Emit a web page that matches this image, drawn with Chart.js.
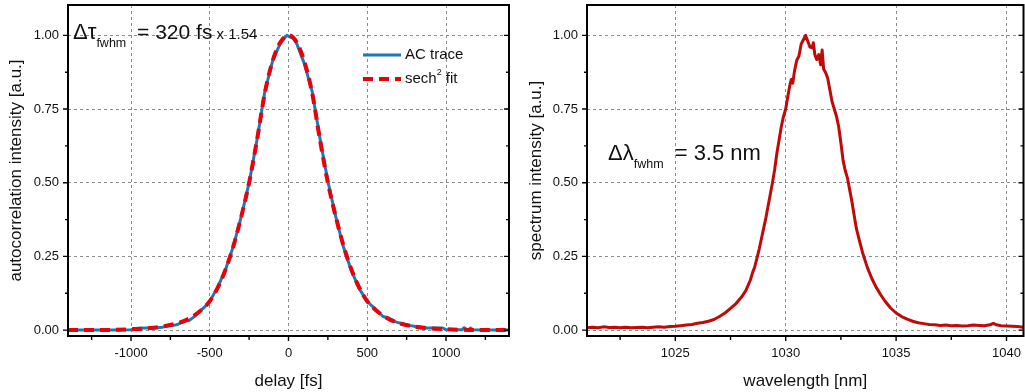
<!DOCTYPE html>
<html><head><meta charset="utf-8">
<script src="https://cdn.jsdelivr.net/npm/chart.js@4.4.0/dist/chart.umd.min.js"></script>
<style>
html,body{margin:0;padding:0;background:#fff;overflow:hidden;}
#wrap{position:relative;width:1025px;height:392px;background:#fff;}
#c1{position:absolute;left:0;top:0;}
#c2{position:absolute;left:520px;top:0;}
</style></head><body>
<div id="wrap"><canvas id="c1" width="520" height="392"></canvas><canvas id="c2" width="505" height="392"></canvas></div>
<script>
// ---- data ----
const acDelay = [-1400,-1300,-1200,-1100,-1000,-960,-900,-850,-800,-760,-720,-700,-660,-630,-600,-560,-520,-500,-450,-400,-350,-300,-250,-200,-150,-100,-50,-10,30,50,100,150,200,250,300,350,400,450,500,550,600,640,680,720,760,800,830,900,980,1000,1100,1115,1130,1145,1155,1170,1250,1400];
const acTrace = [0,0,0,0,0.001,0.006,0.007,0.007,0.010,0.015,0.017,0.020,0.030,0.033,0.045,0.065,0.085,0.098,0.145,0.205,0.285,0.385,0.50,0.645,0.81,0.915,0.975,1.0,0.99,0.975,0.905,0.81,0.65,0.505,0.385,0.28,0.20,0.14,0.097,0.072,0.046,0.040,0.028,0.022,0.016,0.013,0.007,0.007,0.007,0.001,0.001,0.008,0.002,0.001,0.007,0.001,0,0];

const fitDelay = [-1400,-1200,-1100,-1000,-900,-800,-700,-650,-600,-550,-500,-450,-400,-350,-300,-250,-200,-150,-100,-50,0,50,100,150,200,250,300,350,400,450,500,550,600,650,700,800,900,1000,1100,1200,1400];
const sechFit = [0,0,0.001,0.003,0.006,0.012,0.024,0.034,0.049,0.070,0.098,0.143,0.205,0.285,0.385,0.50,0.645,0.805,0.915,0.978,1.0,0.978,0.912,0.805,0.645,0.50,0.385,0.285,0.205,0.143,0.098,0.070,0.049,0.034,0.024,0.012,0.006,0.003,0.001,0,0];

const wavelength = [1021.0,1021.25,1021.5,1021.75,1022.0,1022.25,1022.5,1022.75,1023.0,1023.25,1023.5,1023.75,1024.0,1024.25,1024.5,1024.75,1025.0,1025.25,1025.5,1025.75,1026.0,1026.25,1026.5,1026.75,1027.0,1027.25,1027.5,1027.75,1028.0,1028.2,1028.4,1028.5,1028.6,1028.7,1028.8,1028.9,1029.0,1029.1,1029.2,1029.3,1029.4,1029.5,1029.6,1029.7,1029.8,1029.9,1030.0,1030.1,1030.2,1030.25,1030.32,1030.4,1030.5,1030.6,1030.7,1030.8,1030.9,1031.0,1031.1,1031.2,1031.25,1031.32,1031.4,1031.5,1031.58,1031.65,1031.72,1031.8,1031.9,1032.0,1032.1,1032.2,1032.3,1032.4,1032.5,1032.6,1032.7,1032.8,1032.9,1033.0,1033.1,1033.2,1033.35,1033.5,1033.7,1033.9,1034.1,1034.3,1034.5,1034.75,1035.0,1035.25,1035.5,1035.75,1036.0,1036.25,1036.5,1036.75,1037.0,1037.25,1037.5,1037.75,1038.0,1038.25,1038.5,1038.75,1039.0,1039.25,1039.4,1039.55,1039.75,1040.0,1040.25,1040.5,1040.75,1041.0];
const spectrum = [0.008,0.010,0.008,0.011,0.009,0.010,0.008,0.010,0.008,0.009,0.010,0.008,0.010,0.011,0.010,0.012,0.013,0.015,0.017,0.019,0.023,0.026,0.030,0.036,0.046,0.058,0.074,0.090,0.112,0.135,0.170,0.195,0.215,0.245,0.275,0.310,0.345,0.380,0.420,0.460,0.500,0.545,0.600,0.645,0.690,0.725,0.750,0.795,0.835,0.850,0.838,0.880,0.915,0.930,0.970,0.985,1.000,0.980,0.960,0.958,0.975,0.935,0.918,0.935,0.900,0.950,0.885,0.875,0.855,0.815,0.775,0.750,0.725,0.690,0.635,0.575,0.540,0.515,0.475,0.435,0.390,0.345,0.300,0.258,0.212,0.175,0.145,0.120,0.098,0.075,0.058,0.046,0.037,0.030,0.025,0.022,0.019,0.018,0.016,0.017,0.015,0.016,0.014,0.015,0.017,0.016,0.015,0.018,0.023,0.018,0.015,0.014,0.013,0.012,0.010,0.009];

const yTicks = [0, 0.25, 0.5, 0.75, 1.0];
const delayTicks = [-1000, -500, 0, 500, 1000];
const wlTicks = [1025, 1030, 1035, 1040];

// ---- styling ----
const FONT = '"Liberation Sans", Arial, Helvetica, sans-serif';
const TXT = '#111';
const GRID = '#8c8c8c';

function pts(xs, ys) { return xs.map((x, i) => ({ x: x, y: ys[i] })); }

const framePlugin = {
  id: 'frame',
  afterDraw(chart, args, o) {
    const { ctx, chartArea: a, scales } = chart;
    const xs = scales.x, ys = scales.y;
    ctx.save();
    ctx.strokeStyle = '#000';
    ctx.lineWidth = 1.4;
    const xt = o.xTicks, yt = o.yTicks;
    const xStep = xt[1] - xt[0], yStep = yt[1] - yt[0];
    ctx.beginPath();
    for (let v = xt[0] - xStep; v <= xt[xt.length - 1] + xStep; v += xStep / 2) {
      if (v < xs.min || v > xs.max) continue;
      const px = xs.getPixelForValue(v);
      const major = xt.some(t => Math.abs(t - v) < 1e-9);
      ctx.moveTo(px, a.bottom); ctx.lineTo(px, a.bottom + (major ? 5 : 4));
    }
    for (let v = yt[0] - yStep; v <= yt[yt.length - 1] + yStep; v += yStep / 2) {
      if (v < ys.min || v > ys.max) continue;
      const py = ys.getPixelForValue(v);
      const major = yt.some(t => Math.abs(t - v) < 1e-9);
      const L = major ? 5 : 3;
      ctx.moveTo(a.left, py); ctx.lineTo(a.left - L, py);
      ctx.moveTo(a.right, py); ctx.lineTo(a.right - L, py);
    }
    ctx.stroke();
    ctx.lineWidth = 2;
    ctx.strokeRect(a.left, a.top, a.right - a.left, a.bottom - a.top);
    if (o.label) {
      let x = a.left + o.label.dx;
      const y = ys.getPixelForValue(o.label.at);
      ctx.fillStyle = TXT;
      ctx.textBaseline = 'alphabetic';
      ctx.textAlign = 'left';
      for (const p of o.label.parts) {
        ctx.font = p.size + 'px ' + FONT;
        ctx.fillText(p.text, x, y + (p.dy || 0));
        x += ctx.measureText(p.text).width + (p.gap || 0);
      }
    }
    if (o.legend) {
      const lg = o.legend;
      chart.data.datasets.forEach((ds, i) => {
        const y = a.top + lg.top + i * lg.row;
        const x0 = a.right - lg.fromRight;
        ctx.strokeStyle = ds.borderColor;
        ctx.lineWidth = ds.borderWidth;
        ctx.setLineDash(ds.borderDash || []);
        ctx.beginPath(); ctx.moveTo(x0, y); ctx.lineTo(x0 + lg.lineLen, y); ctx.stroke();
        ctx.setLineDash([]);
        ctx.fillStyle = TXT;
        ctx.textBaseline = 'middle';
        let tx = x0 + lg.lineLen + 4;
        for (const p of lg.labels[i]) {
          ctx.font = p.size + 'px ' + FONT;
          ctx.fillText(p.text, tx, y + (p.dy || 0));
          tx += ctx.measureText(p.text).width;
        }
      });
    }
    ctx.restore();
  }
};

function axisX(min, max, ticks, title, height) {
  return {
    type: 'linear', min: min, max: max,
    afterBuildTicks: s => { s.ticks = ticks.map(v => ({ value: v })); },
    afterFit: s => { s.height = height; s.paddingLeft = 0; s.paddingRight = 0; s.paddingTop = 0; s.paddingBottom = 0; },
    grid: { color: GRID, lineWidth: 1, drawTicks: false },
    border: { display: false, dash: [3, 3] },
    ticks: { padding: 10, color: TXT, maxRotation: 0, autoSkip: false,
      font: { family: FONT, size: 13 }, callback: v => String(v) },
    title: { display: true, text: title, color: TXT, font: { family: FONT, size: 17 }, padding: { top: 5, bottom: 0 } }
  };
}
function axisY(title, width) {
  return {
    type: 'linear', min: -0.02, max: 1.103,
    afterBuildTicks: s => { s.ticks = yTicks.map(v => ({ value: v })); },
    afterFit: s => { s.width = width; s.paddingLeft = 0; s.paddingRight = 0; s.paddingTop = 0; s.paddingBottom = 0; },
    grid: { color: GRID, lineWidth: 1, drawTicks: false },
    border: { display: false, dash: [3, 3] },
    ticks: { padding: 9, color: TXT, font: { family: FONT, size: 13 }, callback: v => v.toFixed(2) },
    title: { display: true, text: title, color: TXT, font: { family: FONT, size: 17 }, padding: { top: 6, bottom: 0 } }
  };
}

const common = {
  responsive: false, animation: false, devicePixelRatio: 1,
  plugins: { legend: { display: false }, tooltip: { enabled: false } },
  elements: { point: { radius: 0 }, line: { tension: 0 } }
};

new Chart(document.getElementById('c1'), {
  type: 'line',
  data: { datasets: [
    { label: 'AC trace', order: 2, data: pts(acDelay, acTrace), borderColor: '#1f77b4', borderWidth: 3, fill: false, borderJoinStyle: 'round' },
    { label: 'sech2 fit', order: 1, data: pts(fitDelay, sechFit), borderColor: '#e8000b', borderWidth: 4, borderDash: [10, 6], fill: false, cubicInterpolationMode: 'monotone' }
  ]},
  options: Object.assign({}, common, {
    layout: { padding: { top: 5, right: 11, left: 0, bottom: 0 } },
    scales: { x: axisX(-1400, 1400, delayTicks, 'delay [fs]', 56), y: axisY('autocorrelation intensity [a.u.]', 68) },
    plugins: Object.assign({}, common.plugins, { frame: {
      xTicks: delayTicks, yTicks: yTicks,
      label: { dx: 5, at: 0.986, parts: [
        { text: 'Δτ', size: 22 }, { text: 'fwhm', size: 12.5, dy: 8, gap: 5 },
        { text: ' = 320 fs', size: 21 }, { text: ' x 1.54', size: 15 } ] },
      legend: { top: 50, row: 24, fromRight: 146, lineLen: 38, labels: [
        [ { text: 'AC trace', size: 15 } ],
        [ { text: 'sech', size: 15 }, { text: '2', size: 9, dy: -6 }, { text: ' fit', size: 15 } ] ] }
    } })
  }),
  plugins: [framePlugin]
});

new Chart(document.getElementById('c2'), {
  type: 'line',
  data: { datasets: [
    { label: 'spectrum', data: pts(wavelength, spectrum), borderColor: '#bf0a0a', borderWidth: 3, fill: false, borderJoinStyle: 'round' }
  ]},
  options: Object.assign({}, common, {
    layout: { padding: { top: 5, right: 1.5, left: 0, bottom: 0 } },
    scales: { x: axisX(1021.0, 1040.77, wlTicks, 'wavelength [nm]', 56), y: axisY('spectrum intensity [a.u.]', 67) },
    plugins: Object.assign({}, common.plugins, { frame: {
      xTicks: wlTicks, yTicks: yTicks,
      label: { dx: 21, at: 0.578, parts: [
        { text: 'Δλ', size: 22 }, { text: 'fwhm', size: 12.5, dy: 8, gap: 5 },
        { text: ' = 3.5 nm', size: 22 } ] }
    } })
  }),
  plugins: [framePlugin]
});
</script>
</body></html>
